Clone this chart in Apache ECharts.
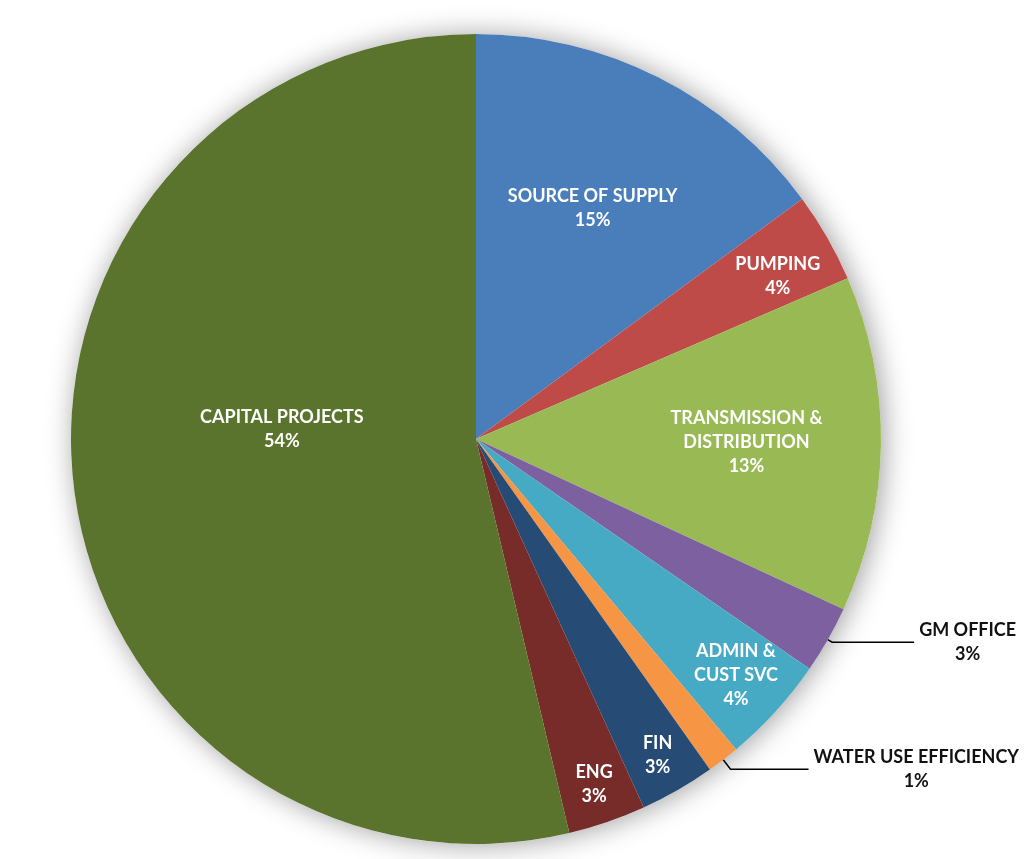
<!DOCTYPE html>
<html>
<head>
<meta charset="utf-8">
<script src="https://cdn.jsdelivr.net/npm/echarts@6/dist/echarts.min.js"></script>
<style>
  html, body { margin: 0; padding: 0; background: #ffffff; }
  #chart { width: 1025px; height: 859px; }
</style>
</head>
<body>
<div id="chart"></div>
<script>
// ---- data ----
const categories = [
  'SOURCE OF SUPPLY',
  'PUMPING',
  'TRANSMISSION &\nDISTRIBUTION',
  'GM OFFICE',
  'ADMIN &\nCUST SVC',
  'WATER USE EFFICIENCY',
  'FIN',
  'ENG',
  'CAPITAL PROJECTS'
];
const values = [14.9, 3.6, 13.4, 2.7, 4.3, 1.3, 3.0, 3.1, 53.7];

// ---- styles ----
const colors = ['#4A7EBB', '#BE4B48', '#98B954', '#7D60A0', '#46AAC5', '#F69544', '#264B74', '#772C2A', '#5A732D'];
// inner radius of the transparent label ring for each slice (label sits mid-ring);
// 'center' = label on the main pie, 'out' = outside with leader line
const labelRing = [106, 292, 130, 'out', 292, 'out', 318, 318, 'center'];
const outLine = { 3: [5, 82], 5: [12, 78] };
const labelNudge = { 1: [-3, 12], 8: [10, -34] };

const CENTER = [476, 439];
const R = 405;
const FONT = 'Lato';

function fmt(p) {
  const lines = p.name.split('\n');
  const out = lines.map(l => '{c|' + l + '}');
  out.push('{c|' + Math.round(p.percent) + '%}');
  return out.join('\n');
}
function richStyle(color) {
  return { c: { color: color, fontFamily: FONT, fontWeight: 'bold', fontSize: 18, lineHeight: 24, align: 'center' } };
}
function nudge(p) {
  const n = labelNudge[p.dataIndex];
  return n ? { dx: n[0], dy: n[1] } : {};
}

const mainData = categories.map((name, i) => {
  const place = labelRing[i];
  const item = { name: name, value: values[i], itemStyle: { color: colors[i] } };
  if (place === 'center') {
    item.label = { show: true, position: 'inside', formatter: fmt, rich: richStyle('#ffffff') };
  } else if (place === 'out') {
    item.label = { show: true, position: 'outside', formatter: fmt, rich: richStyle('#111111') };
    item.labelLine = { show: true, length: outLine[i][0], length2: outLine[i][1], smooth: false,
      lineStyle: { color: '#000000', width: 1.5 } };
  } else {
    item.label = { show: false };
    item.labelLine = { show: false };
  }
  return item;
});

const rings = [...new Set(labelRing.filter(v => typeof v === 'number'))];
const overlaySeries = rings.map(r0 => ({
  type: 'pie', center: CENTER, radius: [r0, R], startAngle: 90, clockwise: true, z: 3,
  avoidLabelOverlap: false, silent: true, labelLine: { show: false },
  labelLayout: nudge,
  data: categories.map((name, i) => ({
    name: name,
    value: values[i],
    itemStyle: { color: 'rgba(0,0,0,0)' },
    label: labelRing[i] === r0
      ? { show: true, position: 'inside', formatter: fmt, rich: richStyle('#ffffff') }
      : { show: false }
  }))
}));

const chart = echarts.init(document.getElementById('chart'), null, { renderer: 'canvas' });
chart.setOption({
  backgroundColor: '#ffffff',
  animation: false,
  series: [
    {
      type: 'pie', center: CENTER, radius: R, silent: true, z: 1,
      startAngle: 90, label: { show: false }, labelLine: { show: false },
      data: [{ value: 1, itemStyle: { color: '#ffffff', shadowBlur: 28, shadowColor: 'rgba(0,0,0,0.38)', shadowOffsetX: 3, shadowOffsetY: 1 } }]
    },
    {
      type: 'pie', center: CENTER, radius: R, startAngle: 90, clockwise: true, z: 2,
      avoidLabelOverlap: false, silent: true,
      itemStyle: { borderWidth: 0 },
      labelLayout: nudge,
      data: mainData
    }
  ].concat(overlaySeries)
});
</script>
</body>
</html>
